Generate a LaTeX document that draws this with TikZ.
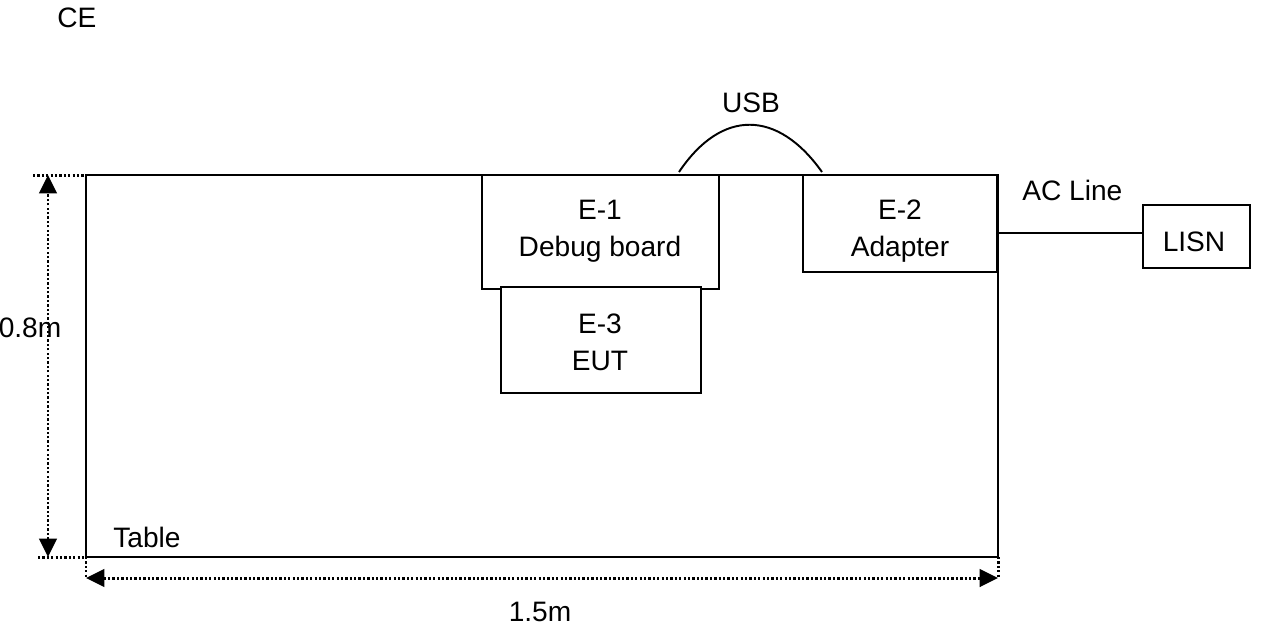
\documentclass[tikz,border=0pt]{standalone}
\usepackage{fontspec}
\setmainfont{Liberation Sans}
\usetikzlibrary{arrows.meta}
\begin{document}
\begin{tikzpicture}[x=0.02cm,y=-0.02cm,
  lbl/.style={font=\fontsize{16pt}{19pt}\selectfont, inner sep=0pt},
  twoline/.style={lbl, align=center},
  eqbox/.style={draw, line width=1.2pt},
  dim/.style={line width=1.7pt, dash pattern=on 1.3pt off 1.2pt},
  dimarrow/.style={dim, {Triangle[length=10.5pt,width=10pt]}-{Triangle[length=10.5pt,width=10pt]}},
  wire/.style={line width=1.1pt}]
\useasboundingbox (0,0) rectangle (1271,640);
% table
\draw[line width=1.5pt] (86,175) rectangle (998,557);
\node[lbl, anchor=west] (table) at (113,537) {Table};
\node[lbl, anchor=west] (ce) at (57,18) {CE};
% equipment boxes
\draw[eqbox, fill=white] (482,175) rectangle (719,289);
\node[twoline] (e1) at (600,231) {E-1\\[2pt]Debug board};
\draw[eqbox, fill=white] (501,287) rectangle (701,393);
\node[twoline] (e3) at (600,342) {E-3\\[2pt]EUT};
\draw[eqbox] (803,175) rectangle (997,272);
\node[twoline] (e2) at (900,231) {E-2\\[2pt]Adapter};
\draw[line width=1.5pt] (482,175) -- (719,175);
\draw[line width=1.5pt] (803,175) -- (997,175);
% LISN
\node[draw, line width=1.2pt, minimum width=2.14cm, minimum height=1.26cm, inner sep=0pt] (lisnbox) at (1196.5,236.5) {};
\node[lbl] (lisn) at (1194,242) {LISN};
\coordinate (acA) at (997,233);
\draw[wire] (acA) -- (acA -| lisnbox.west);
\node[lbl, anchor=west] (acline) at (1022,190) {AC Line};
% USB cable
\coordinate (usbA) at (679,172);
\coordinate (usbB) at (822,172);
\draw[wire] (usbA) .. controls (722,108) and (778,110) .. (usbB);
\node[lbl] (usb) at (751,103) {USB};
% dimensions
\coordinate (vt) at (48,175);
\coordinate (vb) at (48,557);
\draw[dim] (33,175) -- (86,175);
\draw[dim] (38,557) -- (86,557);
\draw[dimarrow] (vb) -- (vt);
\node[lbl] (h) at (30,328) {0.8m};
\coordinate (hl) at (86,578);
\coordinate (hr) at (998,578);
\draw[dim] (86,557) -- (hl);
\draw[dim] (998,557) -- (hr);
\draw[dimarrow] (hl) -- (hr);
\node[lbl] (w) at (540,612) {1.5m};
\end{tikzpicture}
\end{document}
